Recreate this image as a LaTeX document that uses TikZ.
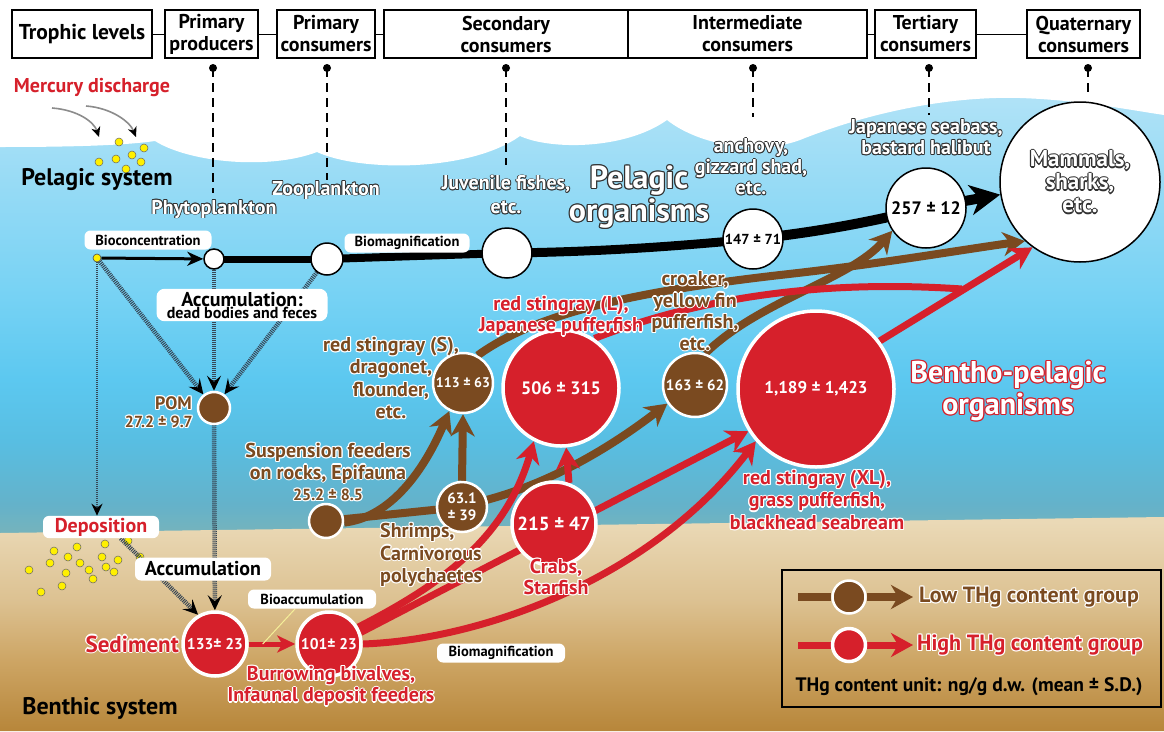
\documentclass[tikz,border=0pt]{standalone}
\usepackage{fontspec}
\setmainfont{PT Sans}
\usetikzlibrary{arrows.meta,calc}
\definecolor{mybrown}{RGB}{122,74,32}
\definecolor{myred}{RGB}{214,32,43}
\definecolor{dk}{RGB}{50,50,50}
\definecolor{hatchc}{RGB}{55,70,85}
\definecolor{wat1}{RGB}{125,180,182}
\definecolor{wat2}{RGB}{100,178,202}
\definecolor{wat3}{RGB}{88,190,226}
\definecolor{wat4}{RGB}{92,200,240}
\definecolor{wat5}{RGB}{118,210,244}
\definecolor{wat6}{RGB}{148,218,245}
\definecolor{wat7}{RGB}{178,227,247}
\definecolor{snd1}{RGB}{183,134,58}
\definecolor{snd2}{RGB}{205,165,100}
\definecolor{snd3}{RGB}{220,193,145}
\definecolor{snd4}{RGB}{234,217,182}
\definecolor{ylw}{RGB}{255,240,0}
\pgfdeclareverticalshading{water}{100bp}{color(0bp)=(wat1); color(25bp)=(wat1); color(29.5bp)=(wat2); color(36.4bp)=(wat3); color(43.2bp)=(wat4); color(52.3bp)=(wat5); color(63.6bp)=(wat6); color(75bp)=(wat7); color(100bp)=(wat7)}
\pgfdeclareverticalshading{sand}{100bp}{color(0bp)=(snd1); color(25bp)=(snd1); color(41.4bp)=(snd2); color(55.3bp)=(snd3); color(73.8bp)=(snd4); color(100bp)=(snd4)}
\pgfdeclarelayer{back}
\pgfdeclarelayer{conn}
\pgfsetlayers{back,conn,main}
\newcommand\olc[2]{\rlap{\kern#1\raisebox{#2}{\copy0}}}
\newcommand\ol[5]{{\setbox0\hbox{#5}\leavevmode{\color{#3}\olc{#1}{0pt}\olc{-#1}{0pt}\olc{0pt}{#1}\olc{0pt}{-#1}\olc{#2}{#2}\olc{-#2}{#2}\olc{#2}{-#2}\olc{-#2}{-#2}}{\color{#4}\box0}}}
\newcommand\wo[1]{\ol{0.9pt}{0.65pt}{dk}{white}{#1}}
\newcommand\wob[1]{\ol{1.2pt}{0.85pt}{dk}{white}{#1}}
\newcommand\bo[1]{\ol{1.2pt}{0.85pt}{white}{mybrown}{#1}}
\newcommand\ro[1]{\ol{1.2pt}{0.85pt}{white}{myred}{#1}}
\newcommand\po[1]{\ol{1.2pt}{0.85pt}{myred}{white}{#1}}
\begin{document}
\begin{tikzpicture}[x=1pt,y=-1pt,
  hdr/.style={draw=black,line width=1.3pt,fill=white,align=center,inner sep=1pt,minimum height=48pt,font=\bfseries\fontsize{20}{22}\selectfont},
  pindot/.style={circle,fill=black,inner sep=0pt,minimum size=8pt},
  pindash/.style={draw=black,line width=2pt,dash pattern=on 9pt off 6pt},
  lbl/.style={fill=white,rounded corners=6pt,inner xsep=5pt,inner ysep=2pt,minimum height=19pt,font=\bfseries\fontsize{14.5}{16}\selectfont},
  otxt/.style={align=center,inner sep=0pt,font=\bfseries\fontsize{20}{22.5}\selectfont},
  wcirc/.style={circle,draw=black,line width=1.5pt,fill=white,inner sep=0pt,align=center},
  bcirc/.style={circle,draw=white,line width=2.5pt,fill=mybrown,text=white,inner sep=0pt,align=center,font=\bfseries\fontsize{14}{17}\selectfont},
  rcirc/.style={circle,draw=white,line width=3.5pt,fill=myred,text=white,inner sep=0pt,align=center,font=\bfseries\fontsize{17}{20}\selectfont},
  ydotst/.style={circle,fill=ylw,draw=black!70,line width=0.6pt,inner sep=0pt,minimum size=8pt},
  hatch/.style={draw=hatchc,line width=4.5pt,dash pattern=on 1pt off 1pt,-{Stealth[black,length=15pt,width=14pt,inset=6pt]}},
  hatchthin/.style={draw=hatchc,line width=2.2pt,dash pattern=on 1pt off 1pt,-{Stealth[black,length=12pt,width=11pt,inset=4pt]}},
  bline/.style={draw=mybrown,line width=8pt},
  barrow/.style={draw=mybrown,line width=8pt,-{Stealth[length=22pt,width=24pt,inset=7pt]}},
  rline/.style={draw=myred,line width=7pt,line join=round},
  rarrow/.style={draw=myred,line width=7pt,line join=round,-{Stealth[length=22pt,width=24pt,inset=7pt]}},
  graycurve/.style={draw=black!45,line width=1.6pt,-{Stealth[black,length=10pt,width=9pt,inset=3pt]}}
]
\useasboundingbox (0,0) rectangle (1164,731);
% ---------- background ----------
\begin{pgfonlayer}{back}
\fill[white] (0,0) rectangle (1164,731);
\shade[shading=water] (0,90) rectangle (1164,545);
\shade[shading=sand] (0,533) -- (1164,517) -- (1164,731) -- (0,731) -- cycle;
\fill[white] (0,0) -- (0,147) .. controls (60,147) and (120,146) .. (155,141)
  .. controls (190,163) and (270,170) .. (317,152)
  .. controls (360,172) and (470,172) .. (520,136)
  .. controls (550,150) and (625,150) .. (667,120)
  .. controls (700,146) and (760,155) .. (800,140)
  .. controls (870,112) and (950,96) .. (1020,98)
  .. controls (1080,100) and (1130,110) .. (1164,115) -- (1164,0) -- cycle;
\foreach \px/\py in {119/142,144/148,132/155,116/159,99/162,141/162,126/169,
   128/541,105/544,54/551,77/547,68/557,102/557,118/560,140/557,50/563,80/563,106/567,114/572,29/570,89/570,66/573,93/579,62/586,41/592}
  \fill[ylw,draw=black!60,line width=0.5pt] (\px,\py) circle (4pt);
\end{pgfonlayer}
% ---------- header ----------
\node[hdr,minimum width=140pt,font=\bfseries\fontsize{21.5}{24}\selectfont] (tl) at (82,34) {Trophic levels};
\node[hdr,minimum width=93pt] (pp) at (211.5,34) {Primary\\producers};
\node[hdr,minimum width=98pt] (pc) at (326,34) {Primary\\consumers};
\node[hdr,minimum width=244pt] (sc) at (506,34) {Secondary\\consumers};
\node[hdr,minimum width=239pt] (ic) at (747.5,34) {Intermediate\\consumers};
\node[hdr,minimum width=101pt] (tc) at (925.5,34) {Tertiary\\consumers};
\node[hdr,minimum width=113pt] (qc) at (1083.5,34) {Quaternary\\consumers};
\draw[line width=1pt] (tl) -- (pp);
\draw[line width=1pt] (pp) -- (pc);
\draw[line width=1pt] (pc) -- (sc);
\draw[line width=1pt] (ic) -- (tc);
\draw[line width=1pt] (tc) -- (qc);
\foreach \n/\x/\e in {p1/213/193,p2/327/180,p3/506/165,p4/753/117,p5/929/115,p6/1088/93}{
  \node[pindot] (\n) at (\x,68) {};
  \coordinate (\n e) at (\x,\e);
  \draw[pindash] (\n.center) -- (\n e);
}
% ---------- labels top-left ----------
\node[font=\bfseries\fontsize{20}{22}\selectfont,text=myred] (merc) at (92,88) {Mercury discharge};
\coordinate (ma1) at (52,108); \coordinate (mb1) at (99,137);
\coordinate (ma2) at (86,106); \coordinate (mb2) at (136,137);
\draw[graycurve] (ma1) .. controls (78,110) and (94,122) .. (mb1);
\draw[graycurve] (ma2) .. controls (112,108) and (130,122) .. (mb2);
\node[font=\bfseries\fontsize{24}{27}\selectfont] (pelsys) at (97,180) {Pelagic system};
\node[font=\bfseries\fontsize{24}{27}\selectfont] (bensys) at (100,708) {Benthic system};
% ---------- pelagic circles ----------
\node[ydotst] (ydot) at (97,258) {};
\node[wcirc,minimum size=20pt] (phyto) at (214,259) {};
\node[wcirc,minimum size=32pt] (zoo) at (327,259) {};
\node[wcirc,minimum size=50pt] (juv) at (507,253) {};
\node[wcirc,minimum size=60pt,font=\bfseries\fontsize{14.5}{16}\selectfont] (c147) at (753,239) {147 ± 71};
\node[wcirc,minimum size=80pt,font=\bfseries\fontsize{18}{20}\selectfont] (c257) at (926,208) {257 ± 12};
\node[wcirc,minimum size=160pt,font=\bfseries\fontsize{23}{23}\selectfont] (mam) at (1080,182) {\wob{Mammals,}\\\wob{sharks,}\\\wob{etc.}};
% ---------- benthic circles ----------
\node[bcirc,minimum size=32pt] (pom) at (214,408) {};
\node[bcirc,minimum size=34pt] (susp) at (326,521) {};
\node[bcirc,minimum size=50pt,font=\bfseries\fontsize{15}{17}\selectfont] (s63) at (462,507) {63.1\\± 39};
\node[bcirc,minimum size=60pt] (s113) at (463,383) {113 ± 63};
\node[bcirc,minimum size=64pt,font=\bfseries\fontsize{15}{17}\selectfont] (s163) at (695,385) {163 ± 62};
\node[rcirc,minimum size=64pt,font=\bfseries\fontsize{15.5}{18}\selectfont] (sed) at (215,644) {133± 23};
\node[rcirc,minimum size=64pt,font=\bfseries\fontsize{15.5}{18}\selectfont] (bur) at (329,644) {101± 23};
\node[rcirc,minimum size=116pt,font=\bfseries\fontsize{18}{20}\selectfont] (c506) at (561,388) {506 ± 315};
\node[rcirc,minimum size=84pt,font=\bfseries\fontsize{19}{21}\selectfont] (c215) at (554,524) {215 ± 47};
\node[rcirc,minimum size=156pt] (c1189) at (816,389) {1,189 ± 1,423};
% ---------- label boxes ----------
\node[lbl,minimum width=127pt] (bioc) at (148,240) {Bioconcentration};
\node[lbl,minimum width=125pt] (biom1) at (407,243) {Biomagnification};
\node[fill=white,rounded corners=8pt,align=center,inner sep=3pt,minimum width=171pt] (accdb) at (242,305) {{\bfseries\fontsize{20}{22}\selectfont Accumulation:}\\{\bfseries\fontsize{16}{18}\selectfont dead bodies and feces}};
\node[lbl,minimum width=116pt,minimum height=22pt,text=myred,font=\bfseries\fontsize{20}{21}\selectfont] (dep) at (101,527) {Deposition};
\node[lbl,minimum width=136pt,minimum height=23pt,font=\bfseries\fontsize{20}{21}\selectfont] (acc) at (203,569) {Accumulation};
\node[lbl,minimum width=128pt] (bioacc) at (312,599) {Bioaccumulation};
\node[lbl,minimum width=128pt] (biom2) at (501,653) {Biomagnification};
% ---------- outlined texts ----------
\node[otxt] (phytol) at (214,209) {\wo{Phytoplankton}};
\node[otxt] (zool) at (326,190) {\wo{Zooplankton}};
\node[otxt,font=\bfseries\fontsize{20}{24}\selectfont] (juvl) at (506,195) {\wo{Juvenile fishes,}\\\wo{etc.}};
\node[otxt,font=\bfseries\fontsize{32}{31}\selectfont] (pelo) at (639,197) {\wob{Pelagic}\\\wob{organisms}};
\node[otxt,font=\bfseries\fontsize{20}{21}\selectfont] (anch) at (751,167) {\wo{anchovy,}\\\wo{gizzard shad,}\\\wo{etc.}};
\node[otxt,font=\bfseries\fontsize{20}{21}\selectfont] (jsb) at (926,137) {\wo{Japanese seabass,}\\\wo{bastard halibut}};
\node[otxt] (rsS) at (391,378) {\bo{red stingray (S),}\\\bo{dragonet,}\\\bo{flounder,}\\\bo{etc.}};
\node[otxt,font=\bfseries\fontsize{20}{21.5}\selectfont] (suspl) at (328,472) {\bo{Suspension feeders}\\\bo{on rocks, Epifauna}\\{\fontsize{16}{18}\selectfont\bo{25.2 ± 8.5}}};
\node[otxt,align=left,anchor=west] (shr) at (380,555) {\bo{Shrimps,}\\\bo{Carnivorous}\\\bo{polychaetes}};
\node[otxt,font=\bfseries\fontsize{20}{21.5}\selectfont] (croak) at (695,311) {\bo{croaker,}\\\bo{yellow fin}\\\bo{pufferfish,}\\\bo{etc.}};
\node[otxt,anchor=east,font=\bfseries\fontsize{18}{20}\selectfont] (poml) at (192,403) {\bo{POM}};
\node[otxt,anchor=east,font=\bfseries\fontsize{16}{18}\selectfont] (pomv) at (193,422) {\bo{27.2 ± 9.7}};
\node[otxt,font=\bfseries\fontsize{20}{21.5}\selectfont] (rsL) at (561,316) {\ro{red stingray (L),}\\\ro{Japanese pufferfish}};
\node[otxt,font=\bfseries\fontsize{20}{21}\selectfont] (crab) at (556,577) {\ro{Crabs,}\\\ro{Starfish}};
\node[otxt] (rsXL) at (817,500) {\ro{red stingray (XL),}\\\ro{grass pufferfish,}\\\ro{blackhead seabream}};
\node[otxt,anchor=east,font=\bfseries\fontsize{23}{25}\selectfont] (sedl) at (179,644) {\ro{Sediment}};
\node[otxt,font=\bfseries\fontsize{20}{21.5}\selectfont] (burl) at (331,686) {\ro{Burrowing bivalves,}\\\ro{Infaunal deposit feeders}};
\node[otxt,font=\bfseries\fontsize{30}{32}\selectfont] (bpo) at (1008,391) {\po{Bentho-pelagic}\\\po{organisms}};
% ---------- legend ----------
\node[draw=black,line width=2pt,minimum width=379pt,minimum height=137pt,inner sep=0pt] (legbox) at (971.5,638.5) {};
\node[bcirc,minimum size=33pt] (lgb) at (849,597) {};
\node[rcirc,minimum size=33pt] (lgr) at (849,645) {};
\coordinate (lgb0) at (798,597); \coordinate (lgb1) at (913,597);
\coordinate (lgr0) at (798,645); \coordinate (lgr1) at (913,645);
\node[otxt,anchor=west,font=\bfseries\fontsize{22}{24}\selectfont] (lgbt) at (919,597) {\bo{Low THg content group}};
\node[otxt,anchor=west,font=\bfseries\fontsize{22}{24}\selectfont] (lgrt) at (917,645) {\ro{High THg content group}};
\node[font=\bfseries\fontsize{19.5}{21}\selectfont] (unit) at (969,687) {THg content unit: ng/g d.w. (mean ± S.D.)};
% ---------- connectors ----------
\begin{pgfonlayer}{conn}
\draw[hatch] (ydot) -- (pom);
\draw[hatch] (phyto) -- (pom);
\draw[hatch] (zoo) -- (pom);
\draw[hatch] (pom) -- (sed);
\draw[hatch] (dep.-30) -- (sed.120);
\draw[hatchthin] (ydot) -- (ydot |- dep.north);
\draw[line width=3pt,-{Stealth[length=16pt,width=14pt,inset=5pt]}] (ydot) -- (phyto);
\draw[line width=7pt] (phyto.center) -- (zoo.center);
\draw[line width=8pt] (zoo.center) -- (juv.center);
\draw[line width=9pt] (juv.center) .. controls (600,252) and (680,246) .. (c147.center);
\draw[line width=10pt] (c147.center) .. controls (820,232) and (880,220) .. (c257.center);
\draw[line width=10pt,-{Stealth[length=30pt,width=30pt,inset=9pt]}] (c257.center) -- (mam.189);
% brown
\draw[bline] (susp) -- (s63);
\draw[barrow] (susp.-5) .. controls (385,518) and (420,480) .. (s113.244);
\draw[barrow] (s63.north) -- (s113.south);
\draw[barrow] (s63.16) .. controls (560,480) and (620,440) .. (s163.214);
\draw[barrow] (s113.62) .. controls (540,310) and (650,290) .. (780,275) .. controls (880,264) and (960,250) .. (mam.227);
\draw[barrow] (s163.72) .. controls (760,300) and (850,280) .. (c257.214);
% red
\draw[draw=myred,line width=5pt,-{Stealth[length=18pt,width=17pt,inset=5pt]}] (sed) -- (bur);
\draw[rarrow] (bur.30) .. controls (440,585) and (505,540) .. (c506.243);
\draw[rarrow] (bur.20) -- (c1189.212);
\draw[rarrow] (bur.0) .. controls (480,640) and (650,580) .. (c1189.221);
\draw[rarrow] (c215.70) -- (c506.275);
\coordinate (rj) at (962,289);
\draw[rline] (c506.56) .. controls (680,305) and (800,278) .. (rj);
\draw[rarrow] (c1189.37) -- (mam.234);
\draw[draw=black!10!ylw!40!white,line width=1pt] (bioacc.210) -- ($(sed.east)!0.3!(bur.west)$);
% legend arrows
\draw[bline] (lgb0) -- (lgb);
\draw[barrow] (lgb) -- (lgb1);
\draw[rline] (lgr0) -- (lgr);
\draw[rarrow] (lgr) -- (lgr1);
\end{pgfonlayer}
\end{tikzpicture}
\end{document}
